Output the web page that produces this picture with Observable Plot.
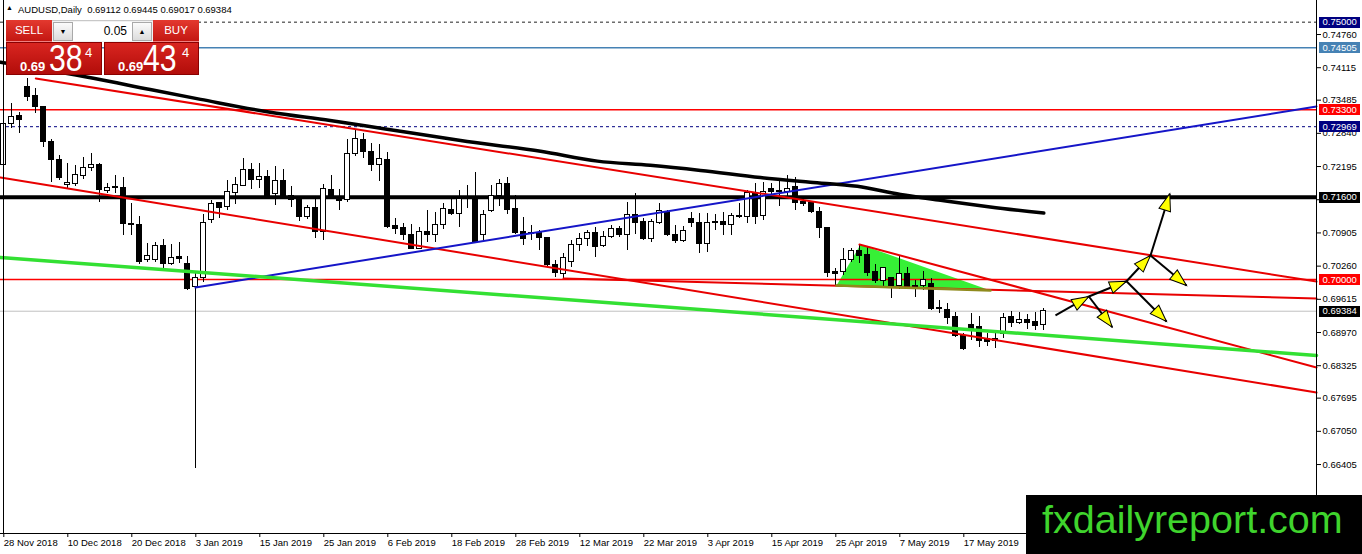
<!DOCTYPE html>
<html><head><meta charset="utf-8">
<script src="https://cdn.jsdelivr.net/npm/d3@7"></script>
<script src="https://cdn.jsdelivr.net/npm/@observablehq/plot@0.6"></script>
<style>
body{margin:0;background:#fff;overflow:hidden;font-family:'Liberation Sans',Arial,sans-serif;}
#wrap{position:relative;width:1362px;height:554px;overflow:hidden;}
#chart{position:absolute;left:0;top:0;}
.abs{position:absolute;box-sizing:border-box;}
.btn{background:linear-gradient(#e3392f,#c41712);color:#fff;font-size:11.5px;line-height:21px;text-align:center;border-bottom:1px solid #f08080;}
.pbox{background:linear-gradient(#d92520,#b20d0a);border:1px solid #8a0000;color:#fff;}
.pbox span{position:absolute;line-height:1;white-space:nowrap;}
.sp{background:linear-gradient(#fbfbfb,#dcdcdc);border:1px solid #a9a9a9;font-size:7px;line-height:17px;text-align:center;color:#000;}
</style></head><body>
<div id="wrap">
<div id="chart"></div>
<div class="abs" style="left:6px;top:3px;font-size:7px;line-height:10px;">&#9650;</div>
<div class="abs" style="left:18px;top:4px;font-size:9.5px;line-height:11px;white-space:pre;">AUDUSD,Daily  0.69112 0.69445 0.69017 0.69384</div>
<div class="abs btn" style="left:6px;top:20px;width:46px;height:22px;">SELL</div>
<div class="abs" style="left:52px;top:20px;width:101px;height:22px;background:#f2f2f2;border-top:1px solid #c8c8c8;"></div>
<div class="abs sp" style="left:53px;top:22px;width:20px;height:19px;">&#9660;</div>
<div class="abs" style="left:73px;top:22px;width:59px;height:19px;background:#fff;font-size:12px;line-height:19px;text-align:right;padding-right:5px;">0.05</div>
<div class="abs sp" style="left:132px;top:22px;width:20px;height:19px;">&#9650;</div>
<div class="abs btn" style="left:153px;top:20px;width:46px;height:22px;">BUY</div>
<div class="abs pbox" style="left:6px;top:42px;width:96px;height:33px;">
 <span style="left:13px;top:17px;font-size:13px;font-weight:bold;">0.69</span>
 <span style="left:42px;top:-2px;font-size:36px;transform:scaleX(0.84);transform-origin:left top;">38</span>
 <span style="left:78px;top:3px;font-size:13px;">4</span>
</div>
<div class="abs pbox" style="left:104px;top:42px;width:95px;height:33px;">
 <span style="left:13px;top:17px;font-size:13px;font-weight:bold;">0.69</span>
 <span style="left:38px;top:-2px;font-size:36px;transform:scaleX(0.84);transform-origin:left top;">43</span>
 <span style="left:77px;top:3px;font-size:13px;">4</span>
</div>
<div class="abs" style="left:1026px;top:495px;width:336px;height:59px;background:#000;"></div>
<div class="abs" style="left:1042px;top:499.5px;font-size:39.5px;line-height:1;color:#3fd42d;white-space:nowrap;">fxdailyreport.com</div>
</div>
<script>
// ---- candle data (bar index 0 = 28 Nov 2018, last = 31 May 2019) ----
const opens = [0.7222,0.7302,0.7317,0.7375,0.7356,0.7335,0.7267,0.7233,0.7183,0.7185,
0.7202,0.7217,0.7223,0.7172,0.7179,0.7177,0.7108,0.7105,0.7037,0.7037,
0.7065,0.7031,0.7043,0.7031,0.6985,0.7003,0.7115,0.7148,0.7141,0.7168,
0.7181,0.7212,0.7194,0.7200,0.7167,0.7191,0.7163,0.7157,0.7121,0.7139,
0.7092,0.7174,0.7159,0.7154,0.7244,0.7272,0.7248,0.7222,0.7233,0.7104,
0.7101,0.7086,0.7060,0.7093,0.7087,0.7105,0.7135,0.7128,0.7159,0.7159,
0.7086,0.7134,0.7163,0.7185,0.7137,0.7092,0.7090,0.7090,0.7081,0.7029,
0.7011,0.7034,0.7068,0.7079,0.7090,0.7065,0.7082,0.7099,0.7086,0.7126,
0.7111,0.7079,0.7109,0.7131,0.7086,0.7075,0.7118,0.7109,0.7069,0.7111,
0.7111,0.7105,0.7124,0.7121,0.7168,0.7124,0.7176,0.7172,0.7170,0.7180,
0.7150,0.7148,0.7131,0.7101,0.7014,0.7014,0.7038,0.7055,0.7047,0.7014,
0.6998,0.7003,0.6988,0.7011,0.6988,0.6988,0.6992,0.6945,0.6941,0.6927,
0.6891,0.6911,0.6908,0.6885,0.6885,0.6895,0.6927,0.6915,0.6922,0.6917,
0.69112];
const highs = [0.7318,0.7342,0.7325,0.7390,0.7372,0.7336,0.7272,0.7241,0.7225,0.7221,
0.7237,0.7244,0.7225,0.7187,0.7202,0.7199,0.7147,0.7122,0.7070,0.7071,
0.7077,0.7068,0.7071,0.7045,0.7012,0.7126,0.7153,0.7150,0.7192,0.7198,
0.7235,0.7225,0.7225,0.7212,0.7220,0.7213,0.7181,0.7159,0.7144,0.7159,
0.7185,0.7202,0.7174,0.7272,0.7290,0.7283,0.7264,0.7263,0.7246,0.7118,
0.7109,0.7107,0.7102,0.7134,0.7131,0.7147,0.7157,0.7173,0.7183,0.7207,
0.7134,0.7183,0.7194,0.7199,0.7163,0.7120,0.7105,0.7095,0.7082,0.7037,
0.7051,0.7076,0.7090,0.7095,0.7102,0.7094,0.7105,0.7103,0.7149,0.7167,
0.7118,0.7116,0.7147,0.7135,0.7105,0.7103,0.7131,0.7129,0.7128,0.7126,
0.7131,0.7129,0.7147,0.7173,0.7187,0.7189,0.7186,0.7192,0.7202,0.7198,
0.7155,0.7152,0.7139,0.7102,0.7021,0.7060,0.7060,0.7066,0.7063,0.7029,
0.7024,0.7004,0.7045,0.7024,0.6998,0.7016,0.7001,0.6959,0.6953,0.6935,
0.6895,0.6933,0.6928,0.6896,0.6898,0.6933,0.6937,0.6935,0.6932,0.6935,
0.69445];
const lows = [0.7214,0.7293,0.7283,0.7345,0.7323,0.7257,0.7189,0.7193,0.7177,0.7181,
0.7194,0.7209,0.7149,0.7167,0.7167,0.7086,0.7086,0.7029,0.7034,0.7034,
0.7015,0.7028,0.7032,0.6979,0.6633,0.6995,0.7108,0.7118,0.7135,0.7146,
0.7180,0.7175,0.7177,0.7157,0.7144,0.7159,0.7139,0.7113,0.7116,0.7079,
0.7075,0.7159,0.7135,0.7150,0.7239,0.7235,0.7209,0.7191,0.7100,0.7088,
0.7075,0.7058,0.7058,0.7072,0.7072,0.7098,0.7124,0.7102,0.7137,0.7070,
0.7075,0.7131,0.7141,0.7126,0.7088,0.7066,0.7076,0.7056,0.7025,0.7003,
0.7001,0.7024,0.7055,0.7064,0.7042,0.7062,0.7079,0.7081,0.7057,0.7088,
0.7076,0.7072,0.7107,0.7084,0.7069,0.7072,0.7102,0.7051,0.7053,0.7095,
0.7086,0.7086,0.7118,0.7108,0.7107,0.7115,0.7161,0.7141,0.7159,0.7135,
0.7142,0.7128,0.7079,0.7003,0.6988,0.7008,0.7034,0.7031,0.7006,0.6992,
0.6986,0.6963,0.6980,0.6982,0.6965,0.6979,0.6940,0.6933,0.6913,0.6888,
0.6862,0.6881,0.6868,0.6870,0.6865,0.6885,0.6907,0.6913,0.6902,0.6900,
0.69017];
const closes = [0.7303,0.7315,0.7310,0.7354,0.7335,0.7267,0.7233,0.7198,0.7188,0.7204,
0.7217,0.7223,0.7173,0.7177,0.7177,0.7107,0.7106,0.7034,0.7045,0.7065,
0.7031,0.7041,0.7039,0.6982,0.7002,0.7109,0.7147,0.7139,0.7170,0.7183,
0.7213,0.7194,0.7200,0.7159,0.7191,0.7163,0.7155,0.7121,0.7139,0.7092,
0.7176,0.7159,0.7152,0.7244,0.7273,0.7248,0.7222,0.7235,0.7102,0.7098,
0.7086,0.7060,0.7092,0.7086,0.7105,0.7137,0.7128,0.7157,0.7157,0.7072,
0.7126,0.7163,0.7185,0.7135,0.7090,0.7079,0.7088,0.7081,0.7029,0.7012,
0.7042,0.7068,0.7079,0.7090,0.7063,0.7082,0.7099,0.7086,0.7126,0.7109,
0.7079,0.7111,0.7133,0.7086,0.7075,0.7095,0.7109,0.7069,0.7109,0.7109,
0.7105,0.7124,0.7121,0.7168,0.7122,0.7170,0.7170,0.7170,0.7176,0.7148,
0.7147,0.7131,0.7101,0.7012,0.7011,0.7038,0.7055,0.7045,0.7012,0.6997,
0.7023,0.6986,0.7010,0.6985,0.6985,0.6999,0.6943,0.6943,0.6926,0.6891,
0.6865,0.6904,0.6880,0.6878,0.6881,0.6926,0.6915,0.6922,0.6915,0.6909,
0.69384];

// ---- axis ticks ----
const tickBars = [0,8,16,24,32,40,48,56,64,72,80,88,96,104,112,120];
const tickLabels = ["28 Nov 2018","10 Dec 2018","20 Dec 2018","3 Jan 2019","15 Jan 2019","25 Jan 2019","6 Feb 2019","18 Feb 2019","28 Feb 2019","12 Mar 2019","22 Mar 2019","3 Apr 2019","15 Apr 2019","25 Apr 2019","7 May 2019","17 May 2019"];
const priceTicks = [0.74760,0.74115,0.73485,0.72840,0.72195,0.71550,0.70905,0.70260,0.69615,0.68970,0.68325,0.67695,0.67050,0.66405,0.65760];

// ---- horizontal price levels ----
const levelNames = ["p7500","p74505","p7330","p72969","p7160","p7000","last"];
const levelPrices = [0.75000,0.74505,0.73300,0.72969,0.71600,0.70000,0.69384];

// ---- trend lines (bar index, price) ----
const trendNames = ["chanTop","chanBottom","wedgeTop","wedgeBase","blue","green"];
const trendBarStart = [4,-0.41,106.96,69.96,23.96,-0.41];
const trendBarEnd = [164.09,164.09,164.09,164.09,164.09,164.09];
const trendPriceStart = [0.73906,0.71982,0.70680,0.70020,0.69845,0.70428];
const trendPriceEnd = [0.69961,0.67805,0.68291,0.69631,0.73362,0.68524];

// ---- green triangle ----
const triBars = [104.09,107.09,123.34];
const triPrices = [0.69884,0.70680,0.69787];

// ---- moving average (black curve) ----
const maBars = [-0.41,11.2,18.3,24.6,33.3,40.8,47.5,57.1,67.1,74.2,80.8,87.1,94.6,100.8,106.7,112.1,117.1,123.3,130];
const maValues = [0.7422,0.7391,0.7369,0.7350,0.7325,0.7309,0.7293,0.7270,0.7249,0.7230,0.7222,0.7212,0.7198,0.7189,0.7181,0.7165,0.7154,0.7141,0.7129];

// ---- projected arrows ----
const arrowPointNames = ["P1","P2","P3","P4","P5","D1","D2","D3"];
const arrowPointBars = [131.46,135.63,140.34,143.34,145.75,138.55,145.34,147.84];
const arrowPointPrices = [0.69301,0.69670,0.69967,0.70467,0.71665,0.69074,0.69184,0.69884];
const arrowFrom = ["P1","P2","P3","P4","P2","P3","P4"];
const arrowTo   = ["P2","P3","P4","P5","D1","D2","D3"];

// ---- styles ----
const levelStyle = {
  p7500:  {stroke:"#222", width:1, dash:"3,3", bg:"#000080"},
  p74505: {stroke:"#4682b4", width:1.5, dash:null, bg:"#4682b4"},
  p7330:  {stroke:"#ff0000", width:1.5, dash:null, bg:"#ff0000"},
  p72969: {stroke:"#000080", width:1, dash:"3,3", bg:"#000080"},
  p7160:  {stroke:"#000", width:4, dash:null, bg:"#000"},
  p7000:  {stroke:"#ff0000", width:1.5, dash:null, bg:"#ff0000"},
  last:   {stroke:"#c0c0c0", width:1, dash:null, bg:"#000"}
};
const trendStyle = {
  chanTop:{stroke:"#e80000",width:2}, chanBottom:{stroke:"#e80000",width:2},
  wedgeTop:{stroke:"#e80000",width:2}, wedgeBase:{stroke:"#e80000",width:2},
  blue:{stroke:"#1515c8",width:2}, green:{stroke:"#33e033",width:3.5}
};

// ---- build tables ----
const candles = opens.map((o,i)=>({i,o,h:highs[i],l:lows[i],c:closes[i]}));
const levels = levelNames.map((n,k)=>({n,p:levelPrices[k],...levelStyle[n]}));
const trends = trendNames.map((n,k)=>[
  {n,x:trendBarStart[k],y:trendPriceStart[k]},
  {n,x:trendBarEnd[k],y:trendPriceEnd[k]}]);
const tri = triBars.map((b,k)=>({x:b,y:triPrices[k]}));
const triBase = [tri[0],tri[2]];
const ma = maBars.map((b,k)=>({x:b,y:maValues[k]}));
const pt = {}; arrowPointNames.forEach((n,k)=>pt[n]={x:arrowPointBars[k],y:arrowPointPrices[k]});

const W=1362,H=554,mR=46,mB=21;
const xDomain=[-0.4125,164.0875], yDomain=[0.65065,0.75421];
const sx = Plot.scale({x:{type:"linear",domain:xDomain,range:[0,W-mR]}});
const sy = Plot.scale({y:{type:"linear",domain:yDomain,range:[H-mB,0]}});
const arrows = arrowFrom.map((f,k)=>{
  const a=pt[f], b=pt[arrowTo[k]];
  const dx = sx.apply(b.x)-sx.apply(a.x), dy = sy.apply(b.y)-sy.apply(a.y);
  return {x1:a.x,y1:a.y,x2:b.x,y2:b.y,angle:Math.atan2(dx,-dy)*180/Math.PI};
});
const head = {draw(ctx,size){ctx.moveTo(0,0);ctx.lineTo(-6,17);ctx.lineTo(6,17);ctx.closePath();}};
const fmt5 = d3.format(".5f");
const crisp = {shapeRendering:"crispEdges"};

const marks = [
  Plot.line(tri,{x:"x",y:"y",fill:"#36f036",stroke:"none",curve:"linear-closed"}),
  ...levels.map(l=>Plot.ruleY([l.p],{stroke:l.stroke,strokeWidth:l.width,strokeDasharray:l.dash||undefined})),
  Plot.ruleX(candles,{x:"i",y1:"l",y2:"h",stroke:"black",strokeWidth:1,...crisp}),
  Plot.rect(candles,{x1:d=>d.i-0.31,x2:d=>d.i+0.31,y1:"o",y2:"c",fill:d=>d.c>=d.o?"white":"black",stroke:"black",strokeWidth:1,...crisp}),
  ...trends.map(t=>Plot.line(t,{x:"x",y:"y",stroke:trendStyle[t[0].n].stroke,strokeWidth:trendStyle[t[0].n].width})),
  Plot.line(triBase,{x:"x",y:"y",stroke:"#8f8a1c",strokeWidth:2.5}),
  Plot.line(ma,{x:"x",y:"y",stroke:"black",strokeWidth:3.5,curve:"monotone-x"}),
  Plot.link(arrows,{x1:"x1",y1:"y1",x2:"x2",y2:"y2",stroke:"black",strokeWidth:2}),
  Plot.dot(arrows,{x:"x2",y:"y2",symbol:head,r:5,rotate:"angle",fill:"#ffff00",stroke:"black",strokeWidth:1}),
  Plot.ruleX([xDomain[1]],{stroke:"black",strokeWidth:1,...crisp}),
  Plot.ruleX([xDomain[0]],{stroke:"black",strokeWidth:1,dx:2.5,...crisp}),
  Plot.ruleY([yDomain[0]],{stroke:"black",strokeWidth:1,...crisp}),
  Plot.axisY({anchor:"right",ticks:priceTicks,tickSize:4,tickPadding:2,tickFormat:fmt5,label:null,fontSize:9.5}),
  Plot.axisX({ticks:tickBars,tickSize:4,tickPadding:2,textAnchor:"start",tickFormat:i=>tickLabels[tickBars.indexOf(i)],label:null,fontSize:9.5}),
  Plot.ruleY(levels,{y:"p",x1:xDomain[1],x2:xDomain[1],insetLeft:3,insetRight:-44,stroke:"bg",strokeWidth:11,...crisp}),
  Plot.text(levels,{y:"p",frameAnchor:"right",dx:6,text:d=>fmt5(d.p),textAnchor:"start",fill:"white",fontSize:9.5})
];

const chart = Plot.plot({
  width:W,height:H,marginLeft:0,marginRight:mR,marginTop:0,marginBottom:mB,
  x:{type:"linear",domain:xDomain,axis:null},
  y:{type:"linear",domain:yDomain,axis:null},
  color:{type:"identity"},
  style:{fontFamily:"'Liberation Sans', Arial, sans-serif",fontSize:"9.5px",background:"white",overflow:"visible",color:"black"},
  marks
});
document.getElementById("chart").appendChild(chart);
</script>
</body></html>
